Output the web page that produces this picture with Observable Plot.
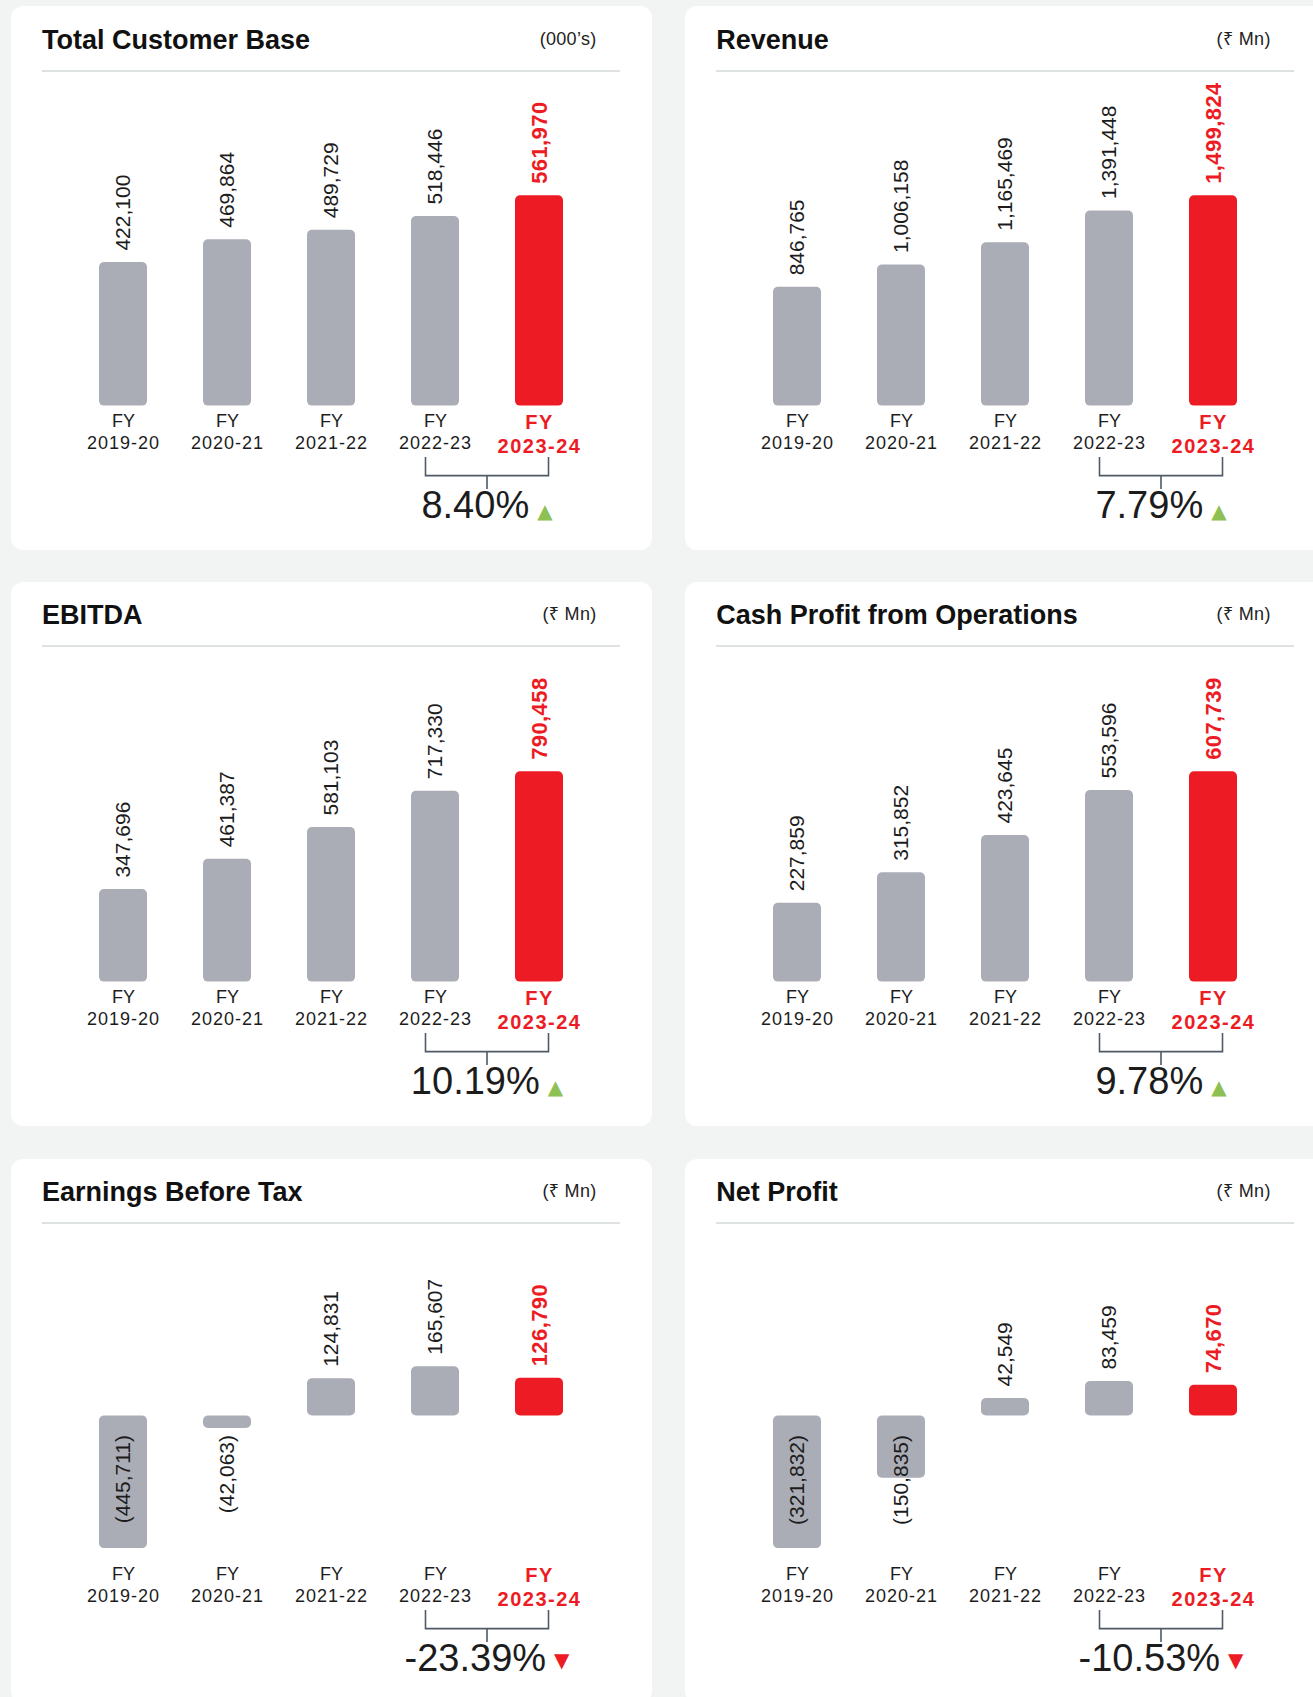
<!DOCTYPE html>
<html>
<head>
<meta charset="utf-8">
<script src="https://cdn.jsdelivr.net/npm/d3@7"></script>
<script src="https://cdn.jsdelivr.net/npm/@observablehq/plot@0.6"></script>
<style>
html,body{margin:0;padding:0;}
body{width:1313px;height:1697px;background:#f2f3f3;position:relative;overflow:hidden;font-family:"Liberation Sans",Arial,"Noto Sans","DejaVu Sans",sans-serif;}
.card{position:absolute;width:641px;height:544px;background:#fff;border-radius:12px;overflow:hidden;}
.title{position:absolute;left:31.5px;top:20.2px;font-weight:700;font-size:27px;line-height:27px;color:#111;white-space:nowrap;}
.unit{position:absolute;right:55px;top:23.4px;font-size:18px;line-height:18px;color:#222;letter-spacing:0.3px;white-space:nowrap;}
.sep{position:absolute;left:31.5px;top:63.3px;width:578px;height:2px;background:#dfe2e3;}
.card svg{position:absolute;left:0;top:70px;}
g[aria-description="value-red"] text{letter-spacing:0.4px;}
g[aria-description="year-gray"] text{letter-spacing:1px;}
g[aria-description="year-red"] text, g[aria-description="fy-red"] text{letter-spacing:1.5px;}
</style>
</head>
<body>
<script>
// ---- data ----
const years = ["2019-20", "2020-21", "2021-22", "2022-23", "2023-24"];
const customerBase = [422100, 469864, 489729, 518446, 561970];
const revenue = [846765, 1006158, 1165469, 1391448, 1499824];
const ebitda = [347696, 461387, 581103, 717330, 790458];
const cashProfit = [227859, 315852, 423645, 553596, 607739];
const ebt = [-445711, -42063, 124831, 165607, 126790];
const netProfit = [-321832, -150835, 42549, 83459, 74670];
const titles = ["Total Customer Base", "Revenue", "EBITDA", "Cash Profit from Operations", "Earnings Before Tax", "Net Profit"];
const units = ["(000\u2019s)", "(\u20B9 Mn)", "(\u20B9 Mn)", "(\u20B9 Mn)", "(\u20B9 Mn)", "(\u20B9 Mn)"];
const growth = [8.40, 7.79, 10.19, 9.78, -23.39, -10.53];
const series = [customerBase, revenue, ebitda, cashProfit, ebt, netProfit];
const customerAxisFloor = 121600; // the customer chart's value axis does not start at zero

const GRAY = "#abadb6", RED = "#ed1c24", GREEN = "#8dc153", INK = "#1c1c1c";
const cardLeft = [10.5, 684.7];
const cardTop = [6.4, 582, 1158.7];
const W = 641, H = 474, MB = 144.4;
const fmt = d3.format(",");

function makeChart(k) {
  const values = series[k];
  const data = years.map((year, i) => ({year, value: values[i]}));
  const last = years[years.length - 1];
  const gray = data.filter(d => d.year !== last);
  const red = data.filter(d => d.year === last);
  const hasNeg = values.some(v => v < 0);
  const base = k === 0 ? customerAxisFloor : 0;
  const y = hasNeg
    ? {domain: [d3.min(values), 0], range: [319.1, 186.5]}
    : {domain: [base, d3.max(values)], range: [H - MB, 119.3]};
  const label = v => v < 0 ? `(${fmt(-v)})` : fmt(v);
  const up = growth[k] >= 0;

  const bracket = (index, scales, vals, dims) => {
    const x = scales.x;
    const half = x.bandwidth ? x.bandwidth() / 2 : 0;
    const x1 = x(years[3]) + half - 9.5, x2 = x(years[4]) + half + 9.5, xm = (x1 + x2) / 2;
    const yb = dims.height - dims.marginBottom;
    const g = d3.create("svg:g").attr("aria-label", "growth");
    g.append("path")
      .attr("d", `M${x1},${yb + 51.3}V${yb + 70}H${x2}V${yb + 51.3}M${xm},${yb + 70}V${yb + 83.3}`)
      .attr("fill", "none").attr("stroke", "#4f5a66").attr("stroke-width", 1.6);
    const t = g.append("text").attr("x", xm).attr("y", yb + 112.3)
      .attr("text-anchor", "middle").attr("font-size", 38).attr("fill", INK);
    t.append("tspan").text(growth[k].toFixed(2) + "%");
    t.append("tspan").attr("dx", 8).attr("dy", up ? 0 : -4).attr("font-size", 20)
      .attr("font-family", "DejaVu Sans").attr("fill", up ? GREEN : RED)
      .text(up ? "\u25B2" : "\u25BC");
    return g.node();
  };

  return Plot.plot({
    width: W, height: H,
    marginLeft: 30.4, marginRight: 30.6, marginTop: 20, marginBottom: MB,
    style: {fontFamily: "'Liberation Sans', Arial, sans-serif", background: "transparent", overflow: "visible"},
    x: {domain: years, padding: 0.54, axis: null},
    y: {...y, axis: null},
    marks: [
      Plot.barY(gray, {x: "year", y1: () => base, y2: "value", fill: GRAY, rx: 5}),
      Plot.barY(red, {x: "year", y1: () => base, y2: "value", fill: RED, rx: 5}),
      Plot.text(gray.filter(d => d.value >= 0), {x: "year", y: "value", text: d => label(d.value), rotate: -90, textAnchor: "start", dy: -12, fontSize: 21, fill: INK, ariaDescription: "value-gray"}),
      Plot.text(gray.filter(d => d.value < 0), {x: "year", y: () => 0, text: d => label(d.value), rotate: -90, textAnchor: "end", dy: 19, fontSize: 21, fill: INK, ariaDescription: "value-gray"}),
      Plot.text(red, {x: "year", y: "value", text: d => label(d.value), rotate: -90, textAnchor: "start", dy: -12, fontSize: 22, fontWeight: "bold", fill: RED, ariaDescription: "value-red"}),
      Plot.text(gray, {x: "year", text: () => "FY", frameAnchor: "bottom", dy: 21.3, fontSize: 18, fill: INK, ariaDescription: "fy-gray"}),
      Plot.text(gray, {x: "year", text: "year", frameAnchor: "bottom", dy: 43, fontSize: 18, fill: INK, ariaDescription: "year-gray"}),
      Plot.text(red, {x: "year", text: () => "FY", frameAnchor: "bottom", dy: 22.6, fontSize: 20, fontWeight: "bold", fill: RED, ariaDescription: "fy-red"}),
      Plot.text(red, {x: "year", text: "year", frameAnchor: "bottom", dy: 46.4, fontSize: 20, fontWeight: "bold", fill: RED, ariaDescription: "year-red"}),
      bracket
    ]
  });
}

for (let k = 0; k < 6; k++) {
  const card = document.createElement("div");
  card.className = "card";
  card.style.left = cardLeft[k % 2] + "px";
  card.style.top = cardTop[Math.floor(k / 2)] + "px";
  const title = document.createElement("div");
  title.className = "title"; title.textContent = titles[k];
  const unit = document.createElement("div");
  unit.className = "unit"; unit.textContent = units[k];
  const sep = document.createElement("div");
  sep.className = "sep";
  card.append(title, unit, sep, makeChart(k));
  document.body.append(card);
}
</script>
</body>
</html>
